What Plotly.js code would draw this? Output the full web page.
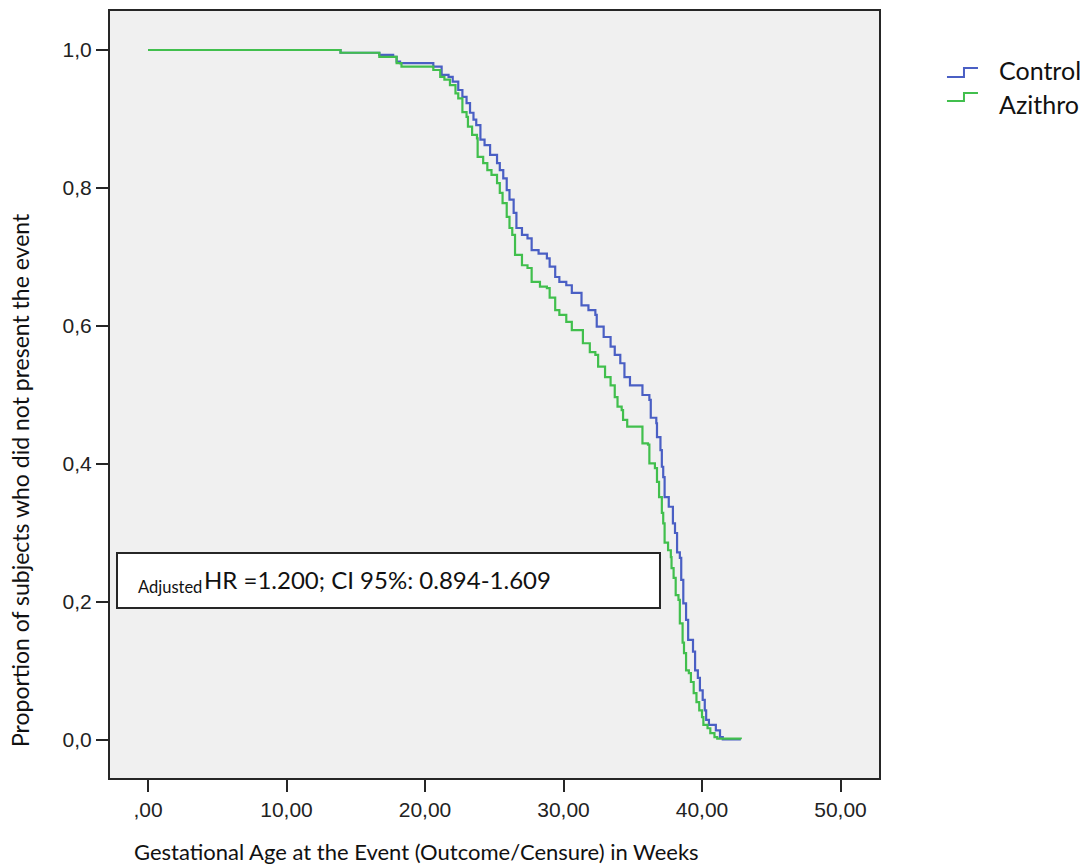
<!DOCTYPE html>
<html>
<head>
<meta charset="utf-8">
<script src="https://cdn.plot.ly/plotly-3.0.1.min.js"></script>
<style>
  html, body { margin: 0; padding: 0; background: #ffffff; }
  #chart { width: 1084px; height: 867px; }
</style>
</head>
<body>
<div id="chart"></div>
<script>
// ---- Data ----
const seriesNames = ["Control", "Azithro"];

const controlWeeks = [0, 13.9, 16.7, 17.7, 17.95, 18.2, 20.6, 21.2, 21.7, 22.0, 22.4, 22.7, 23.0, 23.25, 23.5, 23.7, 24.0, 24.3, 24.7, 25.2, 25.4, 25.65, 25.9, 26.1, 26.4, 26.6, 27.0, 27.4, 27.7, 28.2, 28.8, 29.0, 29.4, 29.7, 30.2, 30.6, 31.3, 31.8, 32.3, 32.4, 32.9, 33.4, 33.7, 34.1, 34.4, 34.8, 35.7, 36.2, 36.3, 36.7, 36.75, 37.0, 37.1, 37.2, 37.3, 37.6, 37.9, 38.05, 38.2, 38.4, 38.5, 38.65, 38.85, 39.0, 39.35, 39.5, 39.7, 39.85, 40.05, 40.2, 40.3, 40.5, 41.0, 41.3, 41.5, 42.8];
const controlSurv = [1.0, 0.996, 0.993, 0.990, 0.983, 0.981, 0.976, 0.964, 0.961, 0.954, 0.942, 0.932, 0.923, 0.909, 0.899, 0.891, 0.870, 0.862, 0.848, 0.836, 0.826, 0.814, 0.797, 0.783, 0.764, 0.742, 0.732, 0.727, 0.710, 0.705, 0.698, 0.686, 0.671, 0.664, 0.659, 0.648, 0.630, 0.623, 0.616, 0.599, 0.584, 0.570, 0.558, 0.546, 0.526, 0.514, 0.500, 0.493, 0.467, 0.459, 0.439, 0.420, 0.396, 0.381, 0.352, 0.338, 0.314, 0.300, 0.272, 0.264, 0.232, 0.198, 0.174, 0.145, 0.128, 0.101, 0.090, 0.072, 0.058, 0.043, 0.029, 0.022, 0.014, 0.004, 0.001, 0.001];

const azithroWeeks = [0, 13.9, 16.7, 17.95, 18.3, 20.6, 21.1, 21.4, 21.8, 22.2, 22.4, 22.7, 23.0, 23.1, 23.4, 23.75, 23.8, 24.2, 24.5, 24.8, 25.2, 25.4, 25.6, 25.9, 26.1, 26.3, 26.5, 27.0, 27.4, 27.7, 28.3, 28.8, 29.0, 29.4, 29.7, 30.2, 30.6, 31.4, 31.9, 32.3, 32.5, 33.0, 33.4, 33.7, 33.9, 34.2, 34.3, 34.6, 35.7, 36.1, 36.2, 36.6, 36.75, 36.9, 37.1, 37.2, 37.3, 37.55, 37.75, 37.8, 37.95, 38.1, 38.3, 38.4, 38.6, 38.7, 38.85, 39.05, 39.2, 39.4, 39.6, 39.8, 40.0, 40.1, 40.4, 40.6, 40.9, 41.1, 42.8];
const azithroSurv = [1.0, 0.996, 0.990, 0.981, 0.976, 0.971, 0.961, 0.957, 0.949, 0.937, 0.930, 0.910, 0.903, 0.889, 0.877, 0.872, 0.845, 0.836, 0.826, 0.819, 0.807, 0.793, 0.778, 0.758, 0.742, 0.732, 0.703, 0.688, 0.684, 0.664, 0.657, 0.655, 0.641, 0.623, 0.616, 0.606, 0.594, 0.575, 0.562, 0.558, 0.541, 0.526, 0.514, 0.497, 0.483, 0.478, 0.464, 0.454, 0.430, 0.428, 0.401, 0.394, 0.374, 0.352, 0.329, 0.314, 0.286, 0.275, 0.265, 0.249, 0.235, 0.210, 0.203, 0.169, 0.141, 0.126, 0.101, 0.097, 0.084, 0.068, 0.055, 0.043, 0.033, 0.022, 0.017, 0.010, 0.004, 0.002, 0.001];

const xTickVals = [0, 10, 20, 30, 40, 50];
const xTickText = [",00", "10,00", "20,00", "30,00", "40,00", "50,00"];
const yTickVals = [0, 0.2, 0.4, 0.6, 0.8, 1.0];
const yTickText = ["0,0", "0,2", "0,4", "0,6", "0,8", "1,0"];

const hrPrefix = "Adjusted";
const hrText = "HR =1.200; CI 95%: 0.894-1.609";
const xTitle = "Gestational Age at the Event (Outcome/Censure) in Weeks";
const yTitle = "Proportion of subjects who did not present the event";

// ---- Styles ----
const blue = "#4a5fc4";
const green = "#41bf4d";
const frame = "#262626";
const textFont = "Lato, 'Liberation Sans', sans-serif";
const tickFont = "'Liberation Sans', Arial, sans-serif";

const traces = [
  { x: controlWeeks, y: controlSurv, name: seriesNames[0], type: "scatter", mode: "lines",
    line: { shape: "hv", color: blue, width: 2.2 }, showlegend: false, hoverinfo: "x+y+name" },
  { x: azithroWeeks, y: azithroSurv, name: seriesNames[1], type: "scatter", mode: "lines",
    line: { shape: "hv", color: green, width: 2.2 }, showlegend: false, hoverinfo: "x+y+name" }
];

// legend glyph helper (step-shaped, like the reference)
function stepGlyph(x0, xm, x1, yLow, yHigh, color) {
  return { type: "path", xref: "paper", yref: "paper",
    path: `M ${x0} ${yLow} L ${xm} ${yLow} L ${xm} ${yHigh} L ${x1} ${yHigh}`,
    line: { color: color, width: 2 } };
}

const layout = {
  width: 1084, height: 867,
  margin: { l: 110, r: 205, t: 11, b: 89, pad: 0 },
  paper_bgcolor: "#ffffff",
  plot_bgcolor: "#f0f0f0",
  xaxis: {
    range: [-2.745, 52.78], tickvals: xTickVals, ticktext: xTickText,
    showgrid: false, zeroline: false, showline: true, mirror: true,
    linecolor: frame, linewidth: 2, ticks: "outside", ticklen: 12, tickwidth: 2, tickcolor: frame,
    tickfont: { family: tickFont, size: 21, color: "#222" }
  },
  yaxis: {
    range: [-0.0551, 1.0565], tickvals: yTickVals, ticktext: yTickText,
    showgrid: false, zeroline: false, showline: true, mirror: true,
    linecolor: frame, linewidth: 2, ticks: "outside", ticklen: 12, tickwidth: 2, tickcolor: frame,
    tickfont: { family: tickFont, size: 21, color: "#222" }
  },
  shapes: [
    { type: "rect", xref: "paper", yref: "paper", x0: 0.0091, x1: 0.7152, y0: 0.2216, y1: 0.2933,
      fillcolor: "#ffffff", line: { color: frame, width: 2 } },
    stepGlyph(1.0884, 1.1105, 1.1287, 0.9140, 0.9258, blue),
    stepGlyph(1.0884, 1.1105, 1.1287, 0.8828, 0.8932, green)
  ],
  annotations: [
    { text: hrPrefix, xref: "paper", yref: "paper", x: 0.0340, y: 0.2490, xanchor: "left", yanchor: "middle",
      showarrow: false, font: { family: textFont, size: 16.5, color: "#111" } },
    { text: hrText, xref: "paper", yref: "paper", x: 0.1200, y: 0.2585, xanchor: "left", yanchor: "middle",
      showarrow: false, font: { family: textFont, size: 24, color: "#111" } },
    { text: seriesNames[0], xref: "paper", yref: "paper", x: 1.1534, y: 0.9235, xanchor: "left", yanchor: "middle",
      showarrow: false, font: { family: textFont, size: 25, color: "#111" } },
    { text: seriesNames[1], xref: "paper", yref: "paper", x: 1.1534, y: 0.8790, xanchor: "left", yanchor: "middle",
      showarrow: false, font: { family: textFont, size: 25, color: "#111" } },
    { text: xTitle, xref: "paper", yref: "paper", x: 0.399, y: -0.0955, xanchor: "center", yanchor: "middle",
      showarrow: false, font: { family: textFont, size: 22, color: "#111" } },
    { text: yTitle, xref: "paper", yref: "paper", x: -0.1170, y: 0.3885, xanchor: "center", yanchor: "middle",
      textangle: -90, showarrow: false, font: { family: textFont, size: 23, color: "#111" } }
  ]
};

Plotly.newPlot("chart", traces, layout, { displayModeBar: false, staticPlot: true });
</script>
</body>
</html>
